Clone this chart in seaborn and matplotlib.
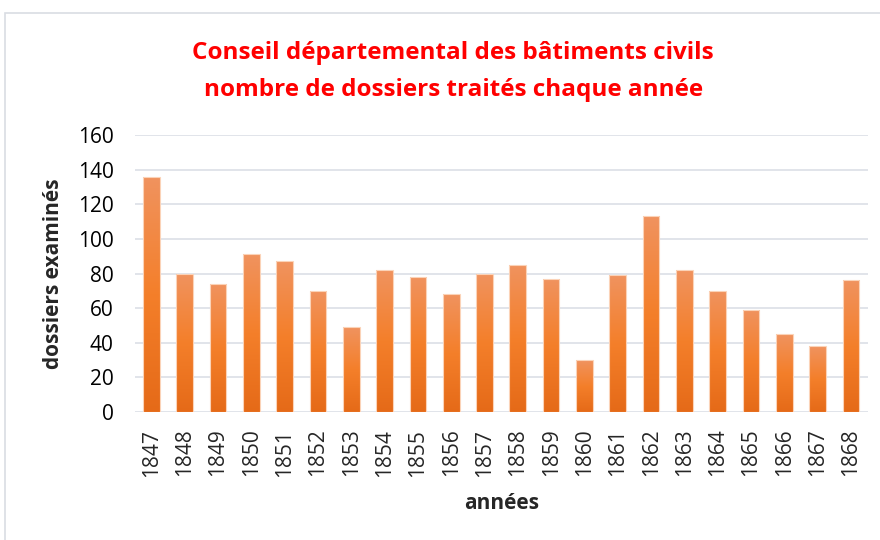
import matplotlib
matplotlib.use("Agg")
import matplotlib.pyplot as plt
import matplotlib.colors as mcolors
from matplotlib.patches import Rectangle
import numpy as np
import pandas as pd
import seaborn as sns

# -------------------------------
# Data
# -------------------------------
years = [str(y) for y in range(1847, 1869)]
dossiers = [136, 80, 74, 91, 87, 70, 49, 82, 78, 68, 80,
            85, 77, 30, 79, 113, 82, 70, 59, 45, 38, 76]

df = pd.DataFrame({"annee": years, "dossiers": dossiers})

# -------------------------------
# Style
# -------------------------------
sns.set_style("white")
plt.rcParams["font.family"] = ["Open Sans", "DejaVu Sans"]

fig = plt.figure(figsize=(8.8, 5.4), dpi=100)
ax = fig.add_axes([0.153, 0.237, 0.833, 0.513])

sns.barplot(data=df, x="annee", y="dossiers", color="#F47F2A",
            width=0.5, ax=ax, zorder=2)

# gradient fill on each bar
grad = mcolors.LinearSegmentedColormap.from_list(
    "orange_grad", ["#E56A18", "#F47F2A", "#F0935F"])
gimg = np.linspace(0, 1, 256).reshape(-1, 1)
for bar in ax.patches:
    x0, y0 = bar.get_x(), bar.get_y()
    w, h = bar.get_width(), bar.get_height()
    im = ax.imshow(gimg, cmap=grad, origin="lower", aspect="auto",
                   extent=[x0, x0 + w, y0, y0 + h], zorder=3)
    im.set_clip_path(bar)
    bar.set_edgecolor("#FBD3B8")
    bar.set_linewidth(0.8)
    bar.set_zorder(4)
    bar.set_facecolor("none")

ax.set_xlim(-0.5, len(years) - 0.5)
ax.set_ylim(0, 160)
ax.set_yticks(range(0, 161, 20))
ax.yaxis.grid(True, color="#DCDFE6", linewidth=1.2, zorder=0)
ax.set_axisbelow(True)
for s in ax.spines.values():
    s.set_visible(False)

ax.tick_params(axis="x", labelrotation=90, labelsize=15, length=0, pad=12)
ax.tick_params(axis="y", labelsize=15, length=0, pad=15, colors="#000000")
ax.set_xlabel("années", fontsize=15, fontweight="bold")
ax.set_ylabel("dossiers examinés", fontsize=15, fontweight="bold")
ax.xaxis.set_label_coords(0.5, -0.292)
ax.yaxis.set_label_coords(-0.097, 0.5)

fig.text(0.515, 0.902, "Conseil départemental des bâtiments civils",
         ha="center", va="center", color="#FF0000",
         fontsize=17.5, fontweight="bold")
fig.text(0.515, 0.834, "nombre de dossiers traités chaque année",
         ha="center", va="center", color="#FF0000",
         fontsize=17.5, fontweight="bold")

# chart frame
fig.patches.append(Rectangle((5 / 880, -0.05), 1.0, 1.05 - 13 / 540,
                             transform=fig.transFigure, fill=False,
                             edgecolor="#D9DDE3", linewidth=1.2))

fig.savefig("out.png", dpi=100)
